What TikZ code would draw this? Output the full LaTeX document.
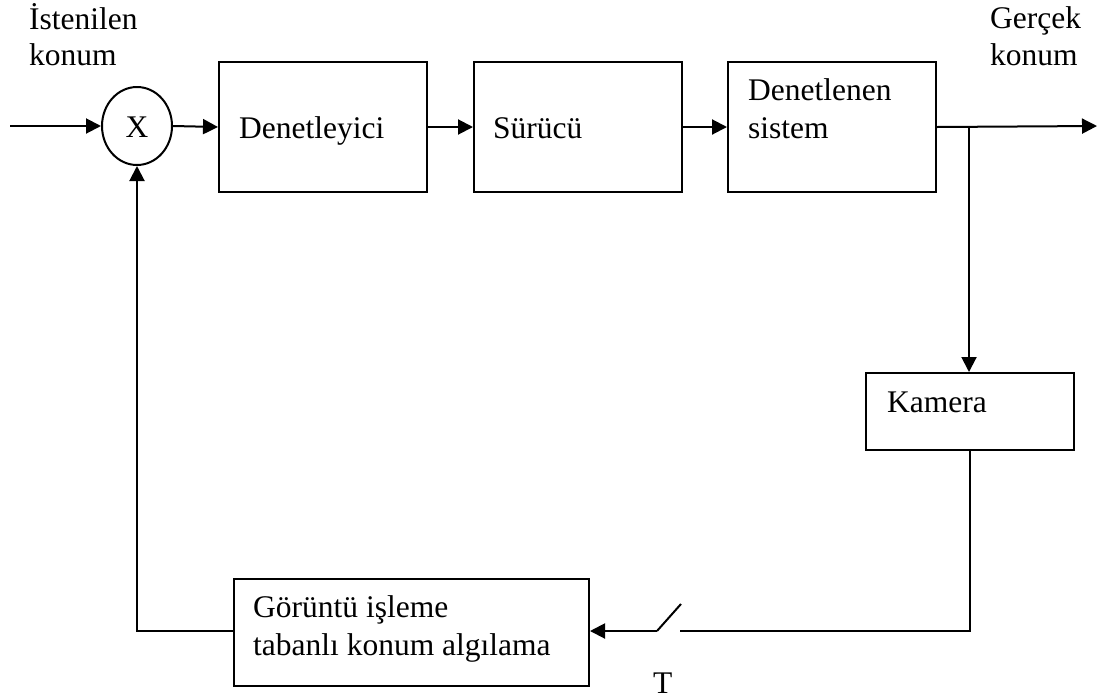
\documentclass[tikz,border=0pt]{standalone}
\usepackage{fontspec}
\setmainfont{Liberation Serif}
\usetikzlibrary{arrows.meta,shapes.geometric}
\begin{document}
\begin{tikzpicture}[x=1pt,y=-1pt,
  blk/.style={draw, line width=2pt, rectangle, anchor=north west, inner sep=0pt},
  txt/.style={anchor=base west, inner sep=0pt, font=\fontsize{31.5}{36}\selectfont},
  wire/.style={line width=2pt},
  arr/.style={wire, -{Triangle[length=15pt,width=15pt]}}]
\useasboundingbox (0,0) rectangle (1099,699);

% blocks of the loop
\node[draw, line width=2pt, ellipse, minimum width=70pt, minimum height=78pt, inner sep=0pt] (sum) at (137,126) {};
\node[blk, minimum width=208pt, minimum height=130pt] (ctrl) at (218,61) {};
\node[blk, minimum width=208pt, minimum height=130pt] (drv) at (473,61) {};
\node[blk, minimum width=208pt, minimum height=130pt] (plant) at (727,61) {};
\node[blk, minimum width=208pt, minimum height=77pt] (cam) at (865,372) {};
\node[blk, minimum width=355pt, minimum height=107pt] (proc) at (233,578) {};

% free ends and the sampling switch
\coordinate (in) at (10,126);
\coordinate (out) at (1097,126);
\coordinate (br) at (969,126);
\coordinate (swL) at (657,631);
\coordinate (swTip) at (681,604);
\coordinate (swR) at (680,631);

% texts
\node[txt] (t1) at (29,29) {İstenilen};
\node[txt] (t2) at (29,65) {konum};
\node[anchor=base, inner sep=0pt, font=\fontsize{31.5}{36}\selectfont] (tx) at (137,137) {X};
\node[txt] (t3) at (239,138) {Denetleyici};
\node[txt] (t4) at (493,138) {Sürücü};
\node[txt] (t5) at (748,100) {Denetlenen};
\node[txt] (t6) at (748,138) {sistem};
\node[txt] (t7) at (990,28) {Gerçek};
\node[txt] (t8) at (990,65) {konum};
\node[txt] (t9) at (887,412) {Kamera};
\node[txt] (t10) at (253,617) {Görüntü işleme};
\node[txt] (t11) at (253,655) {tabanlı konum algılama};
\node[txt] (t12) at (653,693) {T};

% connectors
\draw[arr] (in) -- (sum.west);
\draw[arr] (sum.east) -- (ctrl.west);
\draw[arr] (ctrl.east) -- (drv.west);
\draw[arr] (drv.east) -- (plant.west);
\draw[arr] (plant.east) -- (out);
\draw[arr] (br) -- (br |- cam.north);
\draw[wire] (cam.south) -- (cam.south |- swR) -- (swR);
\draw[wire] (swTip) -- (swL);
\draw[arr] (swL) -- (proc.east |- swL);
\draw[arr] (proc.west |- swL) -| (sum.south);
\end{tikzpicture}
\end{document}
